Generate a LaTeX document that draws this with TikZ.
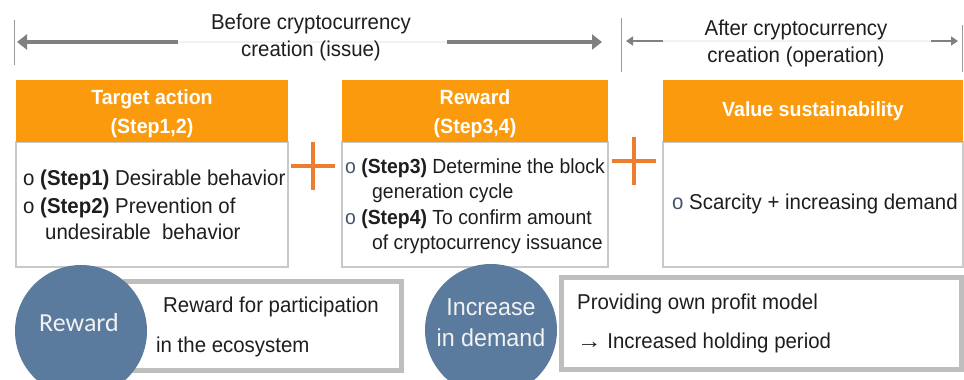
\documentclass[tikz,border=0pt]{standalone}
\usepackage{fontspec}
\setmainfont{Liberation Sans}[FakeStretch=0.95]
\newfontfamily\calfont{Carlito}
\usetikzlibrary{arrows.meta}
\definecolor{hdr}{HTML}{FA9A0C}
\definecolor{plusc}{HTML}{ED7D31}
\definecolor{circ}{HTML}{5A7B9D}
\definecolor{bord}{HTML}{C9C9C9}
\definecolor{rectb}{HTML}{BEBEBE}
\definecolor{arr}{HTML}{808080}
\definecolor{bul}{HTML}{44546A}
\definecolor{txt}{HTML}{1E1E1E}
\newcommand\myBody{\fontsize{21.5pt}{27pt}\selectfont}
\newcommand\mySmall{\fontsize{20.4pt}{25pt}\selectfont}
\newcommand\myHead{\fontsize{20.6pt}{29pt}\selectfont\bfseries}
\tikzset{
  hdrbox/.style={fill=hdr, inner sep=0, text=white, align=center, font=\myHead},
  bodybox/.style={draw=bord, line width=1.2pt, fill=white, inner sep=0},
  line/.style={anchor=base west, inner sep=0, text=txt, font=\myBody},
  sline/.style={line, font=\mySmall},
  plusline/.style={draw=plusc, line width=4.5pt},
  bigarrow/.style={draw=arr, line width=3.5pt, -{Triangle[length=10pt,width=15pt]}},
  smallarrow/.style={draw=arr, line width=2pt, -{Triangle[length=7pt,width=9pt]}},
  sep/.style={draw=arr!80, line width=1pt},
  faint/.style={draw=black!5, line width=2pt},
  toptext/.style={align=center, inner sep=0, text=txt, font=\myBody},
  grayrect/.style={draw=rectb, line width=5pt, fill=white, inner sep=0},
  bluecirc/.style={circle, fill=circ, minimum size=132pt, inner sep=0},
}
\begin{document}
\begin{tikzpicture}[x=1pt, y=-1pt]
\useasboundingbox (0,0) rectangle (964,380);
\clip (0,0) rectangle (964,380);
% top separators and arrows
\coordinate (s1a) at (14,20); \coordinate (s1b) at (14,65);
\coordinate (s2a) at (621,18); \coordinate (s2b) at (621,72);
\coordinate (s3a) at (962,25); \coordinate (s3b) at (962,72);
\draw[sep] (s1a) -- (s1b);
\draw[sep] (s2a) -- (s2b);
\draw[sep] (s3a) -- (s3b);
\coordinate (a1s) at (178,42); \coordinate (a1e) at (17,42);
\coordinate (a2s) at (447,42); \coordinate (a2e) at (602,42);
\coordinate (a3s) at (663,41); \coordinate (a3e) at (626,41);
\coordinate (a4s) at (931,41); \coordinate (a4e) at (958,41);
\draw[faint] (a1s) -- (a2s);
\draw[faint] (a3s) -- (a4s);
\draw[bigarrow] (a1s) -- (a1e);
\draw[bigarrow] (a2s) -- (a2e);
\draw[smallarrow] (a3s) -- (a3e);
\draw[smallarrow] (a4s) -- (a4e);
\node[toptext] (t1) at (311,37) {Before cryptocurrency\\creation (issue)};
\node[toptext] (t2) at (796,43.5) {After cryptocurrency\\creation (operation)};
% boxes
\node[bodybox, minimum width=272pt, minimum height=125pt] (b1) at (152,204.5) {};
\node[hdrbox, minimum width=272pt, minimum height=62pt] (h1) at (152,111) {};
\node[hdrbox] (h1t) at (152,114) {Target action\\(Step1,2)};
\node[bodybox, minimum width=266pt, minimum height=125pt] (b2) at (475,204.5) {};
\node[hdrbox, minimum width=266pt, minimum height=62pt] (h2) at (475,111) {};
\node[hdrbox] (h2t) at (475,114) {Reward\\(Step3,4)};
\node[bodybox, minimum width=300pt, minimum height=125pt] (b3) at (813,204.5) {};
\node[hdrbox, minimum width=300pt, minimum height=62pt] (h3) at (813,111) {Value sustainability};
% box texts
\node[line] (l11) at (23,185) {o \textbf{(Step1)} Desirable behavior};
\node[line] (l12) at (23,213) {o \textbf{(Step2)} Prevention of};
\node[line] (l13) at (45,239) {undesirable\ \ behavior};
\node[sline] (l21) at (345,173.5) {\textcolor{bul}{o} \textbf{(Step3)} Determine the block};
\node[sline] (l22) at (372,198.5) {generation cycle};
\node[sline] (l23) at (345,224.5) {\textcolor{bul}{o} \textbf{(Step4)} To confirm amount};
\node[sline] (l24) at (372,249.5) {of cryptocurrency issuance};
\node[line] (l31) at (672,209.5) {\textcolor{bul}{o} Scarcity + increasing demand};
% plus signs
\coordinate (p1l) at (291,166); \coordinate (p1r) at (335,166);
\coordinate (p1t) at (313,142); \coordinate (p1b) at (313,190);
\coordinate (p2l) at (612,161); \coordinate (p2r) at (656,161);
\coordinate (p2t) at (634,137); \coordinate (p2b) at (634,185);
\draw[plusline] (p1l) -- (p1r);
\draw[plusline] (p1t) -- (p1b);
\draw[plusline] (p2l) -- (p2r);
\draw[plusline] (p2t) -- (p2b);
% bottom rectangles
\node[grayrect, minimum width=276pt, minimum height=89pt] (r1) at (263,325.5) {};
\node[grayrect, minimum width=400pt, minimum height=92pt] (r2) at (761.5,323.5) {};
\node[line] (r1a) at (163,312.5) {Reward for participation};
\node[line] (r1b) at (156,352.5) {in the ecosystem};
\node[line] (r2a) at (577,309) {Providing own profit model};
\node[line] (r2b) at (577,348.5) {\scalebox{1.2}[1]{→} Increased holding period};
% circles
\node[bluecirc] (c1) at (81,331) {};
\node[inner sep=0, text=white!95!black, font=\calfont\fontsize{26pt}{30pt}\selectfont] (c1t) at (79,323) {Reward};
\node[bluecirc] (c2) at (491,330) {};
\node[inner sep=0, align=center, text=white!95!black, font=\fontsize{24.5pt}{31pt}\selectfont] (c2t) at (491,322.5) {Increase\\in demand};
\end{tikzpicture}
\end{document}
